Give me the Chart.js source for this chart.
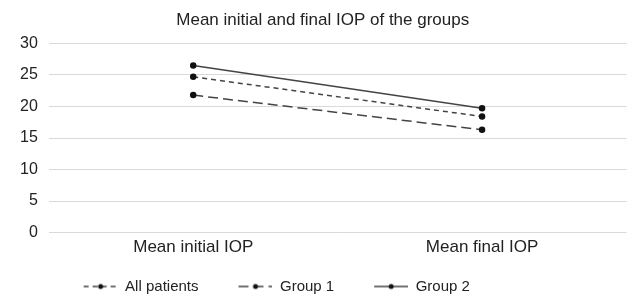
<!DOCTYPE html>
<html><head><meta charset="utf-8">
<script src="https://cdn.jsdelivr.net/npm/chart.js@4/dist/chart.umd.min.js"></script>
<style>html,body{margin:0;padding:0;background:#fff}#w{width:632px;height:300px}</style>
</head><body><div id="w"><canvas id="c"></canvas></div>
<script>
const categories = ["Mean initial IOP", "Mean final IOP"];
const allPatients = [24.7, 18.4];
const group1 = [21.8, 16.3];
const group2 = [26.5, 19.7];
const yTicks = [0, 5, 10, 15, 20, 25, 30];
const seriesNames = ["All patients", "Group 1", "Group 2"];
const dashes = [[5,4],[10,5],[]];

const ICON_GAP = 30, ICON_LEN = 34;
function legendIcon(dash){
  const c=document.createElement('canvas'); c.width=ICON_GAP+ICON_LEN; c.height=10;
  const x=c.getContext('2d');
  x.strokeStyle='#444'; x.lineWidth=1.5; x.setLineDash(dash);
  x.beginPath(); x.moveTo(ICON_GAP,5); x.lineTo(ICON_GAP+ICON_LEN,5); x.stroke();
  x.fillStyle='#111'; x.beginPath(); x.arc(ICON_GAP+ICON_LEN/2,5,2.5,0,Math.PI*2); x.fill();
  return c;
}
const icons = dashes.map(legendIcon);
const data=[allPatients,group1,group2];
Chart.defaults.font.family="'Liberation Sans', Arial, sans-serif";
Chart.defaults.color="#222";

const legendTweak = {
  id:'legendTweak',
  afterInit(chart){
    const lg = chart.legend; const f = lg.fit.bind(lg);
    lg.fit = function(){ f(); this.height -= 4; if (this.lineWidths) this.lineWidths[0] += 122; };
  }
};

new Chart(document.getElementById('c'),{
  type:'line',
  data:{labels:categories,datasets:data.map((d,i)=>({
    label:seriesNames[i],data:d,borderColor:'#444',borderWidth:1.5,borderDash:dashes[i],
    pointBackgroundColor:'#111',pointBorderColor:'#111',pointRadius:2.5,pointStyle:'circle'
  }))},
  plugins:[legendTweak],
  options:{
    responsive:true,maintainAspectRatio:false,animation:false,
    layout:{padding:{left:9,right:-4.5,top:0,bottom:0}},
    plugins:{
      title:{display:true,text:"Mean initial and final IOP of the groups",font:{size:17,weight:'normal'},color:'#222',padding:{top:10,bottom:13}},
      legend:{position:'bottom',labels:{usePointStyle:true,pointStyleWidth:ICON_GAP+ICON_LEN,boxHeight:10,padding:10,font:{size:15},color:'#222',
        generateLabels:(ch)=>{const l=Chart.defaults.plugins.legend.labels.generateLabels(ch);l.forEach((it,i)=>{it.pointStyle=icons[i];});return l;}}},
      tooltip:{enabled:false}
    },
    scales:{
      x:{offset:true,grid:{display:false,drawTicks:false},border:{display:false},ticks:{font:{size:17},color:'#222',padding:5},
         afterFit:s=>{s.height+=6;}},
      y:{min:0,max:30,afterBuildTicks:a=>{a.ticks=yTicks.map(v=>({value:v}));},
         grid:{color:'#d9d9d9',drawTicks:false},border:{display:false},
         ticks:{font:{size:16},color:'#222',padding:11}}
    }
  }
});
</script></body></html>
